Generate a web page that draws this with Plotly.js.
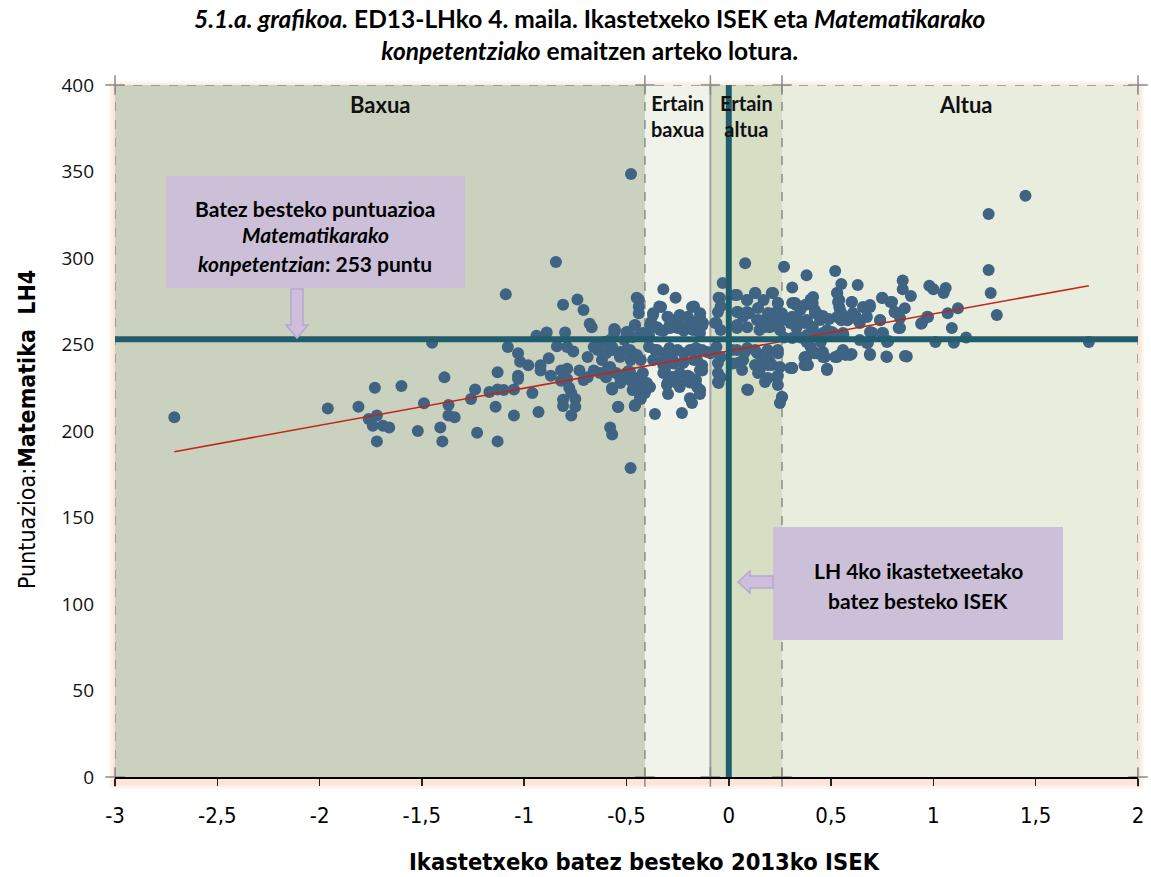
<!DOCTYPE html>
<html>
<head>
<meta charset="utf-8">
<script src="https://cdn.plot.ly/plotly-3.0.1.min.js"></script>
<style>html,body{margin:0;padding:0;background:#fff;}#chart{width:1151px;height:877px;}</style>
</head>
<body>
<div id="chart"></div>
<script>
// ---- Data ----
const iseks = [
-2.71,-1.96,-1.81,-1.73,-1.60,-1.45,-1.39,-1.49,-1.76,-1.72,-1.74,-1.69,-1.66,-1.72,-1.52,-1.41,-1.40,-1.37,-1.37,
-0.478,-0.845,-1.09,-0.81,-0.74,-0.71,-0.68,-0.67,-0.44,-0.44,-0.44,-0.46,-0.56,-0.50,-0.94,-0.89,-0.80,-1.08,-1.03,-1.02,-0.98,
-0.88,-0.84,-0.79,-0.76,-0.92,-0.92,-1.13,-1.03,-1.03,-0.87,-0.82,-0.79,-0.73,-0.82,-0.79,-0.78,-0.77,-0.75,-0.75,-0.81,-0.81,-0.77,
-1.24,-1.26,-1.34,-1.17,-1.13,-1.10,-1.05,-0.96,-1.14,-1.05,-0.93,-1.23,-1.13,-0.58,-0.57,-0.54,-0.48,-0.57,-0.46,-0.43,-0.41,-0.49,
-0.69,-0.66,-0.64,-0.62,-0.60,-0.57,-0.53,-0.50,-0.47,-0.43,-0.71,-0.69,-0.63,-0.58,-0.55,-0.52,-0.48,-0.45,-0.42,-0.40,-0.53,-0.60,-0.66,-0.47,-0.43,
-0.56,-0.64,-0.61,-0.58,-0.51,-0.47,-0.42,
-0.32,-0.26,-0.45,-0.37,-0.34,-0.30,-0.27,-0.24,-0.20,-0.17,-0.14,-0.38,-0.35,-0.32,-0.29,-0.25,-0.22,-0.19,-0.16,-0.13,
-0.39,-0.35,-0.32,-0.29,-0.25,-0.22,-0.19,-0.16,-0.13,-0.09,-0.37,-0.32,-0.27,-0.22,-0.17,-0.13,-0.32,-0.27,-0.20,-0.16,-0.13,
-0.30,-0.24,-0.19,-0.14,-0.19,-0.48,-0.50,-0.47,-0.43,-0.40,-0.39,
0.08,-0.03,-0.05,-0.04,0.04,0.09,0.13,0.17,0.21,0.24,0.04,0.07,0.10,0.15,0.19,0.22,0.25,-0.06,-0.04,0.04,0.09,0.15,0.20,
-0.06,-0.04,0.04,0.09,0.14,0.19,0.24,0.02,0.07,0.15,0.20,0.25,-0.04,0.15,0.19,0.24,-0.05,0.09,0.26,
0.31,0.37,0.38,0.43,0.40,0.27,0.31,0.38,0.31,0.35,0.40,0.43,0.30,0.33,0.38,0.41,
1.45,1.27,1.27,1.28,1.31,1.76,0.52,0.55,0.63,0.53,0.54,0.54,0.60,0.85,0.85,0.89,0.98,1.00,1.06,1.05,
1.12,1.07,0.97,0.94,1.09,1.16,1.01,1.10,0.87,0.77,0.69,0.60,0.57,0.54,0.52,0.48,0.38,0.37,0.30,0.42,0.46,0.47,
0.74,0.83,0.86,0.81,0.79,0.75,0.69,0.67,0.70,0.75,0.78,0.68,0.64,0.60,0.58,0.55,0.62,0.64,
0.49,0.46,0.42,0.41,0.40,0.33,0.41,0.37,0.34,0.31,0.30,0.28,0.26,0.35,0.43,0.51,0.56,0.45,0.38,0.31,0.27,0.48,0.46
];
const scores = [
208,213,214,225,226,251,231,216,207,209,203,203,202,194,200,202,194,215,209,
348.6,297.7,279,273,276,270,262,260,276,272,268,261,259,257,255,257,257,248.6,245,240,238,
242,249,248.5,246,238,235,234,232,230,232,235,236,235,229,230,225,222,218.5,214,218,214.5,209,
224,218.5,208,222.5,224,223.7,224,222,214,209,211,199,194,202,198,214,178.6,224,214.5,218.5,222,234.7,
242.8,248.6,246.8,241,245,248.6,245.7,246.8,245,241,229.5,231,233.5,237,233.5,231,229.5,229.5,233.5,225.4,227.7,231,235,223.7,225.4,
256.6,249.7,251.4,252.6,252.6,254.3,256.6,
282,277,277,268,272,266,264,267,266,272,268,263,260,258,261,259.5,258,260,263,261,
248.6,246.8,245,248,246.8,245,246.8,248,246.8,245,241,238,239,240,241,238,233.5,231,232,229.5,235,
227.7,225.4,228,223.7,219,241,233.5,227.7,223.7,227.7,255.5,
297,285.5,277,272,278.6,275.7,279.8,275.7,279.8,274,268.8,266,268,264,266,268,263,262.4,258.4,259.5,260,258.4,260,
248.6,242.8,246.8,248,245,246.8,245,239,241,238,240,237,231,235,230.6,232,227.7,224,219.7,
236.4,238,242.8,245,248.6,295,283,290,274,270,276,268,264,259.5,263,258.4,
336,325.4,293,279.8,267,251.4,292.5,285,284.4,279.8,275.7,271.7,274.6,287,282,278,284,282,282.7,279.8,
271,268,266,262,259.5,254,251.4,251,243,243,244.5,244.5,244,244,242.8,236,238.7,242.2,236.4,245,245.7,242.8,
264,259.5,271,268.8,274.6,277,271.7,271,257,256.6,252,251,252.6,266,264,264,266.5,262.4,
264.7,266.5,270,274,274,272.8,260,262.4,264,266,262.4,265,268,254,255,256.6,255.5,251.4,251.4,253.8,254,258.4,256.6
];
// dense central cluster, read from close-ups
const iseksCore = [
-0.331,-0.370,-0.297,-0.239,-0.180,-0.141,-0.126,-0.385,-0.336,-0.287,-0.224,-0.175,-0.141,-0.361,-0.287,-0.175,-0.106,
-0.322,-0.273,-0.224,-0.155,-0.312,-0.278,-0.239,-0.190,-0.141,-0.302,-0.253,-0.204,-0.155,-0.297,-0.180,-0.141,-0.229,-0.361,-0.385,
-0.556,-0.498,-0.458,-0.434,-0.566,-0.532,-0.483,-0.449,-0.595,-0.532,-0.483,-0.434,-0.571,-0.542,-0.458,-0.434,
-0.043,0.030,0.089,0.128,0.216,0.240,-0.053,0.045,0.089,0.143,0.192,0.235,-0.067,0.040,0.138,0.177,0.211,0.250,
0.324,0.372,0.407,0.289,0.358,0.407,-0.067,0.016,0.079,0.128,0.192,0.240,-0.053,0.045,0.128,0.162,0.211,
-0.053,0.065,0.143,0.192,0.235,-0.053,0.177,0.240,0.260,0.250,0.094,0.309,0.372,0.387,0.412,
0.412,0.407,0.421,0.382,0.446,0.529,0.534,0.544,0.529,0.602,0.656,0.690,0.749,0.798,0.558,0.607,0.631,0.675,0.739,0.812,0.837,
0.504,0.558,0.690,0.754,0.382,0.436,0.837,0.944,0.974,0.460,0.529,0.558,0.592,0.690,0.773,0.861,0.372,0.382,0.480,0.773,0.675
];
const scoresCore = [
271.7,267.1,265.9,265.9,271.7,265.9,262.4,261.3,258.4,259.5,260.1,258.4,256.6,246.8,245.7,246.8,245.7,
241.0,241.0,239.3,241.0,235.3,231.2,233.5,231.2,235.3,226.6,227.7,229.5,225.4,221.4,216.2,221.4,210.4,209.8,225.4,
258.4,257.2,261.3,255.5,246.8,242.8,246.8,243.9,235.3,231.2,234.1,231.2,224.9,213.9,215.0,219.7,
276.9,278.6,275.7,279.8,279.8,274.0,268.8,268.8,268.8,271.1,268.2,267.1,262.4,261.3,264.2,260.1,261.3,258.4,
274.0,272.8,275.7,264.2,263.0,260.1,246.8,246.8,245.7,246.8,245.1,246.8,239.3,239.3,238.2,239.9,238.2,
233.5,235.3,233.5,238.2,231.2,228.3,228.3,226.6,219.7,216.2,223.7,236.4,242.8,238.2,245.7,
277.5,272.8,268.2,264.2,264.2,279.8,274.6,270.0,265.9,274.6,271.7,272.8,276.9,274.6,267.1,268.2,264.2,265.9,264.2,268.8,265.3,
257.2,256.6,257.2,256.6,255.5,255.5,259.5,262.4,265.9,242.8,242.8,246.8,243.9,243.9,242.8,243.4,242.2,238.2,235.3,251.4,250.9
];
const trendX = [-2.71, 1.76];
const trendY = [188, 284];
const meanScore = 253;
const meanISEK = 0;
const bandEdges = [-3, -0.41, -0.09, 0.26, 2];
const bandNames = ['Baxua', 'Ertain<br>baxua', 'Ertain<br>altua', 'Altua'];
const xTickVals = [-3,-2.5,-2,-1.5,-1,-0.5,0,0.5,1,1.5,2];
const xTickText = ['-3','-2,5','-2','-1,5','-1','-0,5','0','0,5','1','1,5','2'];
const yTickVals = [0,50,100,150,200,250,300,350,400];

// ---- helpers (pixel -> paper) ----
const L=115, R=1138, T=85, B=777;
const px = x => (x-L)/(R-L);
const py = y => (B-y)/(B-T);

const bandFills = ['#cad1be','#f0f3e9','#d6dfc4','#e9edde'];
const shapes = [];
// glow
[[0.10,6],[0.10,4],[0.12,2]].forEach(([a,d])=>{
  shapes.push({type:'rect',xref:'paper',yref:'paper',x0:px(L-d),x1:px(R+d),y0:py(B+d+6),y1:py(T-d+2),
    fillcolor:`rgba(245,165,115,${a})`,line:{width:0},layer:'below'});
});
for(let i=0;i<4;i++){
  shapes.push({type:'rect',xref:'x',yref:'y',x0:bandEdges[i],x1:bandEdges[i+1],y0:0,y1:400,
    fillcolor:bandFills[i],line:{width:0},layer:'below'});
}
// dashed borders
shapes.push({type:'line',xref:'x',yref:'y',x0:-3,x1:2,y0:400,y1:400,line:{color:'#8d8d80',width:1.5,dash:'dash'},layer:'below'});
[0,1,3,4].forEach(i=>{
  shapes.push({type:'line',xref:'x',yref:'y',x0:bandEdges[i],x1:bandEdges[i],y0:0,y1:400,line:{color:'#8d8d80',width:1.5,dash:'dash'},layer:'below'});
});
shapes.push({type:'line',xref:'x',yref:'y',x0:bandEdges[2],x1:bandEdges[2],y0:0,y1:400,line:{color:'#a3a3a3',width:2},layer:'below'});
// info boxes
const boxFill = '#ccc0d9';
shapes.push({type:'rect',xref:'paper',yref:'paper',x0:px(166),x1:px(465),y0:py(288),y1:py(176),fillcolor:boxFill,line:{width:0},layer:'above'});
shapes.push({type:'rect',xref:'paper',yref:'paper',x0:px(773),x1:px(1063),y0:py(640),y1:py(527),fillcolor:boxFill,line:{width:0},layer:'above'});
// arrows
function pth(pts){return 'M'+pts.map(p=>px(p[0])+','+py(p[1])).join(' L')+' Z';}
shapes.push({type:'path',xref:'paper',yref:'paper',path:pth([[291,289],[303,289],[303,325],[308,325],[297,338],[286,325],[291,325]]),
  fillcolor:'#cdbfdc',line:{color:'#b7a6cf',width:1.5},layer:'above'});
shapes.push({type:'path',xref:'paper',yref:'paper',path:pth([[773,576],[773,588],[750,588],[750,593],[738,582],[750,571],[750,576]]),
  fillcolor:'#cdbfdc',line:{color:'#b7a6cf',width:1.5},layer:'above'});

const F = 'Lato, "Open Sans", sans-serif';
const NF = '"Liberation Sans Narrow", "DejaVu Sans Condensed", sans-serif';
function txt(x,y,text,size,fam){
  return {xref:'paper',yref:'paper',x:px(x),y:py(y),text:text,showarrow:false,xanchor:'center',yanchor:'middle',
    font:{family:fam||F,size:size,color:'#000'}};
}
const annotations = [
  txt(589,35,'<b><i>5.1.a. grafikoa.</i> ED13-LHko 4. maila. Ikastetxeko ISEK eta <i>Matematikarako</i></b><br><b><i>konpetentziako</i> emaitzen arteko lotura.</b>',24.5),
  txt(645,862,'<b>Ikastetxeko batez besteko 2013ko ISEK</b>',23.5,NF),
  Object.assign(txt(27,430,'Puntuazioa:<b>Matematika  LH4</b>',23,NF),{textangle:-90}),
  txt(315,209,'<b>Batez besteko puntuazioa</b>',21),
  txt(315,234,'<b><i>Matematikarako</i></b>',21),
  txt(315,263,'<b><i>konpetentzian</i>: 253 puntu</b>',21),
  txt(918,570,'<b>LH 4ko ikastetxeetako</b>',21),
  txt(918,600,'<b>batez besteko ISEK</b>',21)
];
annotations[0].align = 'center';
const bandLabelX = [380, 677, 746, 965];
bandNames.forEach((n,i)=>{
  annotations.push({xref:'paper',yref:'paper',x:px(bandLabelX[i]),y:py(89),yanchor:'top',xanchor:'center',align:'center',
    text:'<b>'+n+'</b>',showarrow:false,font:{family:F,size:i===1||i===2?20:22,color:'#111'}});
});

const crossX = [], crossY = [];
bandEdges.forEach(e=>{crossX.push(e,e);crossY.push(0,400);});

const traces = [
  {x:crossX,y:crossY,mode:'markers',type:'scatter',cliponaxis:false,hoverinfo:'skip',
   marker:{symbol:'cross-thin-open',size:14,color:'#8a8a8a',line:{color:'#8a8a8a',width:1.5}}},
  {x:iseks.concat(iseksCore),y:scores.concat(scoresCore),mode:'markers',type:'scatter',cliponaxis:false,
   marker:{size:12,color:'#3e6383'}},
  {x:trendX,y:trendY,mode:'lines',type:'scatter',line:{color:'#c0261a',width:1.6}},
  {x:[-3,2.024],y:[meanScore,meanScore],mode:'lines',type:'scatter',cliponaxis:false,line:{color:'#225d6d',width:6}},
  {x:[meanISEK,meanISEK],y:[400,-10],mode:'lines',type:'scatter',cliponaxis:false,line:{color:'#225d6d',width:6}}
];

const layout = {
  width:1151,height:877,showlegend:false,
  margin:{l:L,r:1151-R,t:T,b:877-B,pad:0},
  paper_bgcolor:'#ffffff',plot_bgcolor:'rgba(0,0,0,0)',
  xaxis:{range:[-3,2],tickvals:xTickVals,ticktext:xTickText,showgrid:false,zeroline:false,
    showline:true,linecolor:'#000',linewidth:1.5,ticks:'outside',ticklen:7,tickwidth:1.5,tickcolor:'#222',
    tickfont:{family:NF,size:22,color:'#000'},ticklabelstandoff:11,fixedrange:true},
  yaxis:{range:[0,400],tickvals:yTickVals,showgrid:false,zeroline:false,showline:false,ticks:'',
    tickfont:{family:'"Open Sans", sans-serif',size:19,color:'#111'},ticklabelstandoff:20,fixedrange:true},
  shapes:shapes,annotations:annotations
};
Plotly.newPlot('chart',traces,layout,{displayModeBar:false,staticPlot:true});
</script>
</body>
</html>
